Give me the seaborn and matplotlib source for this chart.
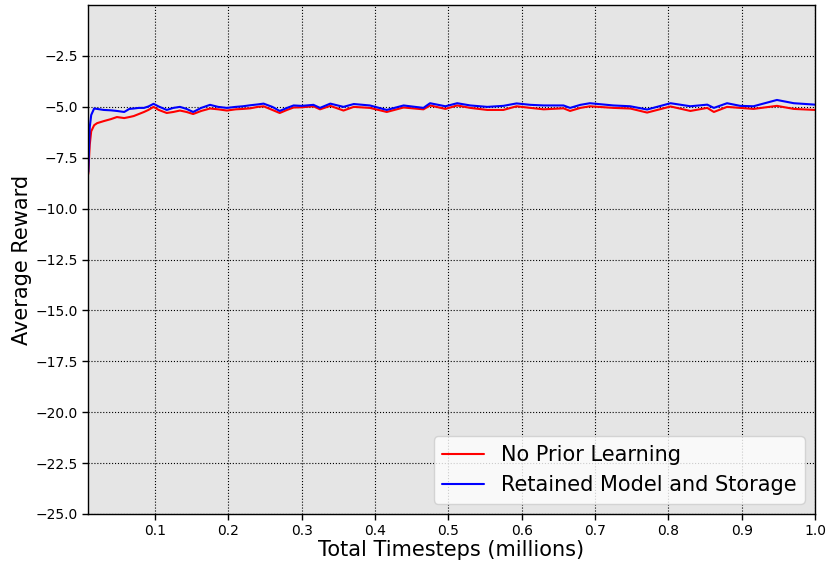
import pandas as pd
import numpy as np
import matplotlib
matplotlib.use("Agg")
import matplotlib.pyplot as plt
import seaborn as sns

# timesteps in millions
timesteps = [0.009, 0.011, 0.013, 0.017, 0.021, 0.03, 0.04, 0.048, 0.058, 0.065,
             0.071, 0.078, 0.085, 0.091, 0.098, 0.105, 0.116, 0.125, 0.134, 0.143,
             0.152, 0.163, 0.175, 0.186, 0.198, 0.21, 0.22, 0.23, 0.24, 0.248,
             0.26, 0.27, 0.28, 0.289, 0.3, 0.316, 0.325, 0.339, 0.357, 0.371,
             0.393, 0.416, 0.439, 0.466, 0.475, 0.496, 0.512, 0.53, 0.553, 0.575,
             0.593, 0.612, 0.63, 0.657, 0.666, 0.68, 0.693, 0.725, 0.748, 0.771,
             0.803, 0.83, 0.853, 0.862, 0.88, 0.898, 0.916, 0.948, 0.971, 1.0]

no_prior = [-8.3, -6.86, -6.2, -5.9, -5.8, -5.7, -5.6, -5.5, -5.55, -5.5,
            -5.45, -5.35, -5.25, -5.15, -5.0, -5.15, -5.3, -5.25, -5.18, -5.25,
            -5.35, -5.2, -5.08, -5.12, -5.18, -5.12, -5.1, -5.07, -5.0, -4.97,
            -5.15, -5.3, -5.15, -5.03, -5.02, -4.97, -5.12, -4.95, -5.18, -5.0,
            -5.05, -5.25, -5.03, -5.12, -4.93, -5.1, -4.93, -5.05, -5.15, -5.15,
            -4.97, -5.05, -5.12, -5.07, -5.2, -5.05, -4.97, -5.05, -5.08, -5.28,
            -4.98, -5.2, -5.05, -5.25, -5.0, -5.05, -5.1, -4.95, -5.1, -5.15]

retained = [-8.2, -6.0, -5.4, -5.08, -5.1, -5.15, -5.17, -5.2, -5.25, -5.1,
            -5.08, -5.05, -5.05, -4.98, -4.85, -4.98, -5.15, -5.05, -5.0, -5.1,
            -5.25, -5.05, -4.9, -5.0, -5.05, -5.0, -4.97, -4.92, -4.88, -4.84,
            -5.0, -5.2, -5.05, -4.93, -4.95, -4.9, -5.05, -4.84, -5.0, -4.86,
            -4.93, -5.15, -4.93, -5.05, -4.82, -4.97, -4.82, -4.93, -5.0, -4.95,
            -4.83, -4.9, -4.93, -4.93, -5.05, -4.9, -4.82, -4.93, -4.97, -5.13,
            -4.82, -4.97, -4.89, -5.05, -4.82, -4.95, -4.97, -4.66, -4.82, -4.89]

labels = ["No Prior Learning", "Retained Model and Storage"]

df = pd.DataFrame({
    "t": timesteps * 2,
    "reward": no_prior + retained,
    "run": [labels[0]] * len(timesteps) + [labels[1]] * len(timesteps),
})

sns.set_style("whitegrid")
plt.rcParams["font.family"] = ["DejaVu Sans"]
plt.rcParams["text.color"] = "black"
plt.rcParams["axes.labelcolor"] = "black"
plt.rcParams["xtick.color"] = "black"
plt.rcParams["ytick.color"] = "black"

fig = plt.figure(figsize=(8.3, 5.67), dpi=100)
ax = fig.add_axes([0.106, 0.0935, 0.876, 0.8975])
ax.set_facecolor("#e5e5e5")

sns.lineplot(data=df, x="t", y="reward", hue="run",
             palette={labels[0]: "red", labels[1]: "blue"},
             linewidth=1.5, ax=ax)

ax.set_xlim(0.0086, 1.0)
ax.set_ylim(-25, 0)
ax.set_xticks(np.arange(1, 11) / 10)
ax.set_yticks(np.arange(-25, 0, 2.5))
ax.grid(True, color="black", linestyle=":", linewidth=0.8)
for s in ax.spines.values():
    s.set_color("black")
    s.set_linewidth(1.0)
ax.tick_params(axis="both", direction="out", length=4, width=1, color="black",
               labelcolor="black", labelsize=10, left=True, bottom=True)

ax.set_xlabel("Total Timesteps (millions)", fontsize=15, labelpad=1)
ax.set_ylabel("Average Reward", fontsize=15, labelpad=2)
ax.legend(loc="lower right", fontsize=15, frameon=True, facecolor="white",
          framealpha=0.8, edgecolor="#cccccc", handlelength=2.0)

plt.savefig("out.png", dpi=100)
